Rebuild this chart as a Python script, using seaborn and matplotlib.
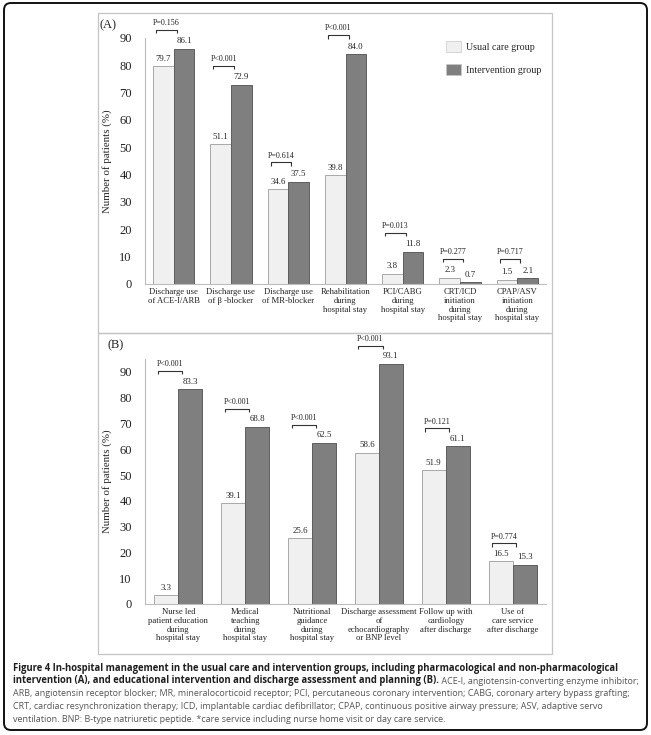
import matplotlib
matplotlib.use("Agg")
import matplotlib.pyplot as plt
from matplotlib.patches import Rectangle, FancyBboxPatch
from matplotlib.transforms import IdentityTransform
import seaborn as sns
import pandas as pd

# ---------------- data ----------------
groups = ["Usual care group", "Intervention group"]

cats_a = ["Discharge use\nof ACE-I/ARB", "Discharge use\nof \u03b2 -blocker", "Discharge use\nof MR-blocker",
          "Rehabilitation\nduring\nhospital stay", "PCI/CABG\nduring\nhospital stay",
          "CRT/ICD\ninitiation\nduring\nhospital stay", "CPAP/ASV\ninitiation\nduring\nhospital stay"]
usual_a = [79.7, 51.1, 34.6, 39.8, 3.8, 2.3, 1.5]
interv_a = [86.1, 72.9, 37.5, 84.0, 11.8, 0.7, 2.1]
pvals_a = ["P=0.156", "P<0.001", "P=0.614", "P<0.001", "P=0.013", "P=0.277", "P=0.717"]

cats_b = ["Nurse led\npatient education\nduring\nhospital stay", "Medical\nteaching\nduring\nhospital stay",
          "Nutritional\nguidance\nduring\nhospital stay", "Discharge assessment\nof\nechocardiography\nor BNP level",
          "Follow up with\ncardiology\nafter discharge", "Use of\ncare service\nafter discharge"]
usual_b = [3.3, 39.1, 25.6, 58.6, 51.9, 16.5]
interv_b = [83.3, 68.8, 62.5, 93.1, 61.1, 15.3]
pvals_b = ["P<0.001", "P<0.001", "P<0.001", "P<0.001", "P=0.121", "P=0.774"]

yticks = [0, 10, 20, 30, 40, 50, 60, 70, 80, 90]
ylabel = "Number of patients (%)"

caption_l1 = ("Figure 4 In-hospital management in the usual care and intervention groups, including "
              "pharmacological and non-pharmacological")
caption_l2b = ("intervention (A), and educational intervention and discharge assessment and planning (B).")
caption_l2r = " ACE-I, angiotensin-converting enzyme inhibitor;"
caption_rest = [
    "ARB, angiotensin receptor blocker; MR, mineralocorticoid receptor; PCI, percutaneous coronary intervention; CABG, coronary artery bypass grafting;",
    "CRT, cardiac resynchronization therapy; ICD, implantable cardiac defibrillator; CPAP, continuous positive airway pressure; ASV, adaptive servo",
    "ventilation. BNP: B-type natriuretic peptide. *care service including nurse home visit or day care service.",
]

# ---------------- style ----------------
sns.set_theme(style="white")
plt.rcParams["font.family"] = ["Liberation Serif", "DejaVu Serif"]
SERIF = ["Liberation Serif", "DejaVu Serif"]
SANS = ["Open Sans", "DejaVu Sans"]

W, H = 651, 735
fig = plt.figure(figsize=(W / 100, H / 100), dpi=100)
fig.patch.set_facecolor("white")

palette = {"Usual care group": "#f0f0f0", "Intervention group": "#7f7f7f"}
edges = ["#a8a8a8", "#5e5e5e"]


def px_axes(x0, x1, ytop, ybot):
    return fig.add_axes([x0 / W, 1 - ybot / H, (x1 - x0) / W, (ybot - ytop) / H])


def draw_panel(ax, cats, usual, interv, pvals, ymax, legend):
    df = pd.DataFrame({
        "cat": cats * 2,
        "group": [groups[0]] * len(cats) + [groups[1]] * len(cats),
        "val": usual + interv,
    })
    sns.barplot(data=df, x="cat", y="val", hue="group", order=cats, hue_order=groups,
                palette=palette, width=0.72, ax=ax, legend=legend, saturation=1)
    for cont, ec in zip(ax.containers, edges):
        for bar in cont:
            bar.set_edgecolor(ec)
            bar.set_linewidth(0.7)
        ax.bar_label(cont, labels=[f"{b.get_height():.1f}" for b in cont], padding=2.5,
                     fontsize=6.3, color="#222222", family=SERIF)
    ax.set_ylim(0, ymax)
    ax.set_xlim(-0.5, len(cats) - 0.5)
    ax.set_yticks(yticks)
    ax.tick_params(axis="y", length=0, pad=9.5, labelsize=9, labelcolor="#222222")
    ax.tick_params(axis="x", length=0, pad=3, labelsize=6.2, labelcolor="#222222")
    for lab in ax.get_xticklabels():
        lab.set_linespacing(1.12)
    ax.set_xlabel("")
    ax.set_ylabel(ylabel, fontsize=7.8, color="#222222")
    ax.yaxis.set_label_coords(-0.082, 0.5)
    for s in ["top", "right"]:
        ax.spines[s].set_visible(False)
    for s in ["left", "bottom"]:
        ax.spines[s].set_color("#bdbdbd")
        ax.spines[s].set_linewidth(0.8)
    # brackets + p values
    ubars, ibars = ax.containers[0], ax.containers[1]
    for ub, ib, p in zip(ubars, ibars, pvals):
        bw = ub.get_width()
        xu = ub.get_x() + bw * 0.5 - 0.35 * bw
        xi = ib.get_x() + bw * 0.5 - 0.35 * bw
        top = max(ub.get_height(), ib.get_height()) + 7.0
        ax.plot([xu, xu, xi, xi], [top - 1.3, top, top, top - 1.3], color="#333333", lw=0.8,
                clip_on=False, solid_capstyle="butt")
        ax.annotate(p, xy=((xu + xi) / 2, top), xytext=(0, 2), textcoords="offset points",
                    ha="center", va="bottom", fontsize=5.8, color="#222222", family=SERIF,
                    annotation_clip=False)


axA = px_axes(145, 546, 38, 284)
draw_panel(axA, cats_a, usual_a, interv_a, pvals_a, 90, True)
handles, labels = axA.get_legend_handles_labels()
if axA.get_legend() is not None:
    axA.get_legend().remove()
for h in handles:
    h.set_edgecolor("#c8c8c8")
    h.set_linewidth(0.5)
fig.legend(handles, labels, loc="upper left", bbox_to_anchor=(446 / W, 1 - 41 / H),
           frameon=False, handlelength=1.45, handleheight=1.3, labelspacing=1.25,
           handletextpad=0.6, borderpad=0, borderaxespad=0, prop={"family": SERIF, "size": 7.2})

axB = px_axes(145, 546, 359, 604)
draw_panel(axB, cats_b, usual_b, interv_b, pvals_b, 95, False)

# panel labels
fig.text(100 / W, 1 - 25 / H, "(A)", fontsize=9, family=SERIF, va="center", ha="left", color="#222222")
fig.text(107 / W, 1 - 345 / H, "(B)", fontsize=9, family=SERIF, va="center", ha="left", color="#222222")

# panel frames
for y0, y1 in [(13, 333), (333, 654)]:
    fig.add_artist(Rectangle((98 / W, 1 - y1 / H), 454 / W, (y1 - y0) / H, transform=fig.transFigure,
                             fill=False, edgecolor="#c4c4c4", lw=0.9))

# outer rounded border (pixel coordinates)
fig.add_artist(FancyBboxPatch((4, H - 730), 643, 727, boxstyle="round,pad=0,rounding_size=7",
                              transform=IdentityTransform(), fill=False, edgecolor="#111111", lw=1.4))

# caption
cap_b = 6.85
cap_r = 6.45
x0 = 13 / W
fig.text(x0, 1 - 668 / H, caption_l1, fontsize=cap_b, family=SANS, weight="bold", color="#1e1e1e", va="center")
t2 = fig.text(x0, 1 - 681 / H, caption_l2b, fontsize=cap_b, family=SANS, weight="bold", color="#1e1e1e", va="center")
r = fig.canvas.get_renderer()
bb = t2.get_window_extent(renderer=r)
fig.text(bb.x1 / W, 1 - 681 / H, caption_l2r, fontsize=cap_r, family=SANS, color="#555555", va="center")
for i, line in enumerate(caption_rest):
    fig.text(x0, 1 - (694 + 12.7 * i) / H, line, fontsize=cap_r, family=SANS, color="#555555", va="center")

fig.savefig("out.png", dpi=100)
